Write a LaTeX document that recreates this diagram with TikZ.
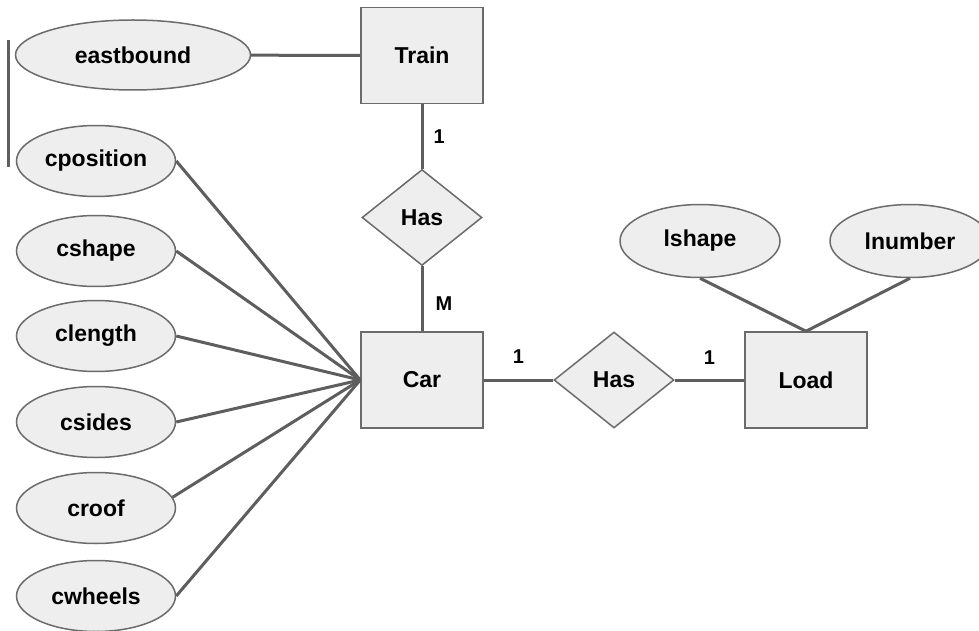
\documentclass[tikz,border=0pt]{standalone}
\usepackage{fontspec}
\setmainfont{Liberation Sans}
\usepackage{xcolor}
\usetikzlibrary{positioning,shapes.geometric}
\definecolor{erline}{HTML}{5E5E5E}
\definecolor{erborder}{HTML}{6B6B6B}
\definecolor{erfill}{HTML}{EEEEEE}
\tikzset{
  % --- ER shapes -------------------------------------------------------------
  entity/.style={rectangle,draw=erborder,fill=erfill,line width=1.5pt,
                 minimum width=122pt,minimum height=96pt,inner sep=0pt,
                 font=\fontsize{23}{27}\selectfont\bfseries},
  relation/.style={diamond,draw=erborder,fill=erfill,line width=1.5pt,
                   minimum width=120pt,minimum height=96pt,inner sep=0pt,
                   font=\fontsize{23}{27}\selectfont\bfseries},
  attrib/.style={ellipse,draw=erborder,fill=erfill,line width=1.5pt,
                 minimum width=159pt,minimum height=71pt,inner sep=0pt,
                 font=\fontsize{23}{27}\selectfont\bfseries},
  % --- connectors --------------------------------------------------------------
  link/.style={erline,line width=3pt},
  card/.style={font=\fontsize{20}{23}\selectfont\bfseries,inner sep=0pt,text=black},
}

\begin{document}
\begin{tikzpicture}[x=1pt, y=-1pt]
  \useasboundingbox (0,0) rectangle (979,631);

  % entities and relations
  \node[entity]   (train) at (422,55.5) {Train};
  \node[relation] (has1)  at (422,217.5) {Has};
  \node[entity]   (car)   at (422,380)  {Car};
  \node[relation] (has2)  at (614,380)  {Has};
  \node[entity]   (load)  at (806,380)  {Load};

  % attributes
  \node[attrib,minimum width=235pt,minimum height=70pt] (eastbound) at (133,55) {eastbound};
  \node[attrib] (cposition) at (96,161) {cposition};
  \node[attrib] (cshape)    at (96,251) {cshape};
  \node[attrib] (clength)   at (96,336) {clength};
  \node[attrib] (csides)    at (96,422) {csides};
  \node[attrib] (croof)     at (96,508) {croof};
  \node[attrib] (cwheels)   at (96,596) {cwheels};
  \node[attrib,minimum width=160pt,minimum height=73pt] (lshape)  at (700,241) {lshape};
  \node[attrib,minimum width=160pt,minimum height=73pt] (lnumber) at (910,241) {lnumber};

  \coordinate (bartop) at (8,40);
  \coordinate (barbot) at (8,167);
  \draw[link] (bartop) -- (barbot);

  \draw[link] (eastbound) -- (train);
  \draw[link] (train) -- node[card,right=10pt]{1} (has1);
  \draw[link] (has1) -- node[card,right=12pt,pos=0.57]{M} (car);
  \draw[link] (car) -- node[card,above=15pt]{1} (has2);
  \draw[link] (has2) -- node[card,above=14pt]{1} (load);

  \foreach \a in {cposition,cshape,clength,csides,cwheels}
    \draw[link] (\a.east) -- (car.west);
  \draw[link] (croof.8) -- (car.west);

  \draw[link] (lshape.south) -- (load.north);
  \draw[link] (lnumber.south) -- (load.north);
\end{tikzpicture}
\end{document}
